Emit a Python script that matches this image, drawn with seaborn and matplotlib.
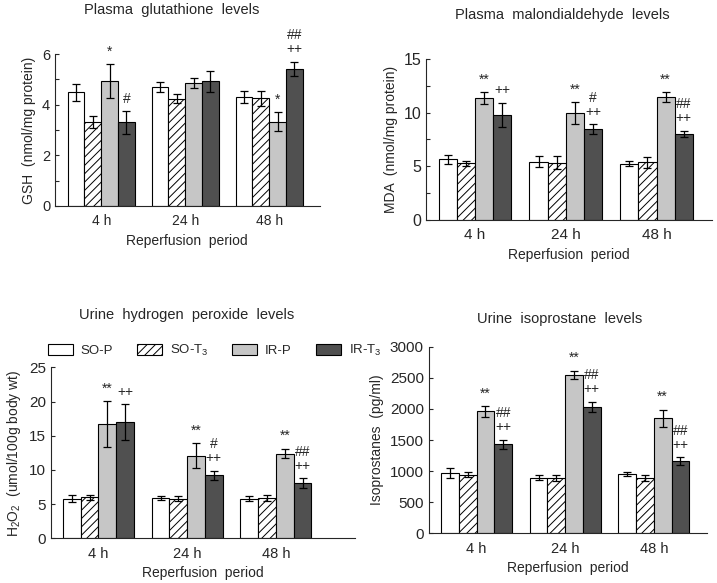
import numpy as np
import pandas as pd
import seaborn as sns
import matplotlib.pyplot as plt
from matplotlib.patches import Patch
from matplotlib.ticker import AutoMinorLocator, MultipleLocator

# data
periods = ["4 h", "24 h", "48 h"]
groups = ["SO-P", "SO-T3", "IR-P", "IR-T3"]

gsh_mean = {"SO-P": [4.49, 4.69, 4.32], "SO-T3": [3.33, 4.24, 4.25],
            "IR-P": [4.93, 4.86, 3.33], "IR-T3": [3.30, 4.93, 5.42]}
gsh_err = {"SO-P": [0.33, 0.20, 0.24], "SO-T3": [0.24, 0.17, 0.28],
           "IR-P": [0.67, 0.19, 0.37], "IR-T3": [0.45, 0.41, 0.27]}
gsh_marks = {"IR-P": ["*", "", "*"], "IR-T3": ["#", "", "##\n++"]}

mda_mean = {"SO-P": [5.64, 5.42, 5.24], "SO-T3": [5.27, 5.33, 5.36],
            "IR-P": [11.37, 9.95, 11.43], "IR-T3": [9.79, 8.46, 8.00]}
mda_err = {"SO-P": [0.40, 0.50, 0.20], "SO-T3": [0.25, 0.60, 0.50],
           "IR-P": [0.55, 1.00, 0.45], "IR-T3": [1.10, 0.45, 0.30]}
mda_marks = {"IR-P": ["**", "**", "**"], "IR-T3": ["++", "#\n++", "##\n++"]}

h2o2_mean = {"SO-P": [5.8, 5.9, 5.8], "SO-T3": [6.0, 5.8, 5.9],
             "IR-P": [16.7, 12.1, 12.4], "IR-T3": [17.0, 9.2, 8.1]}
h2o2_err = {"SO-P": [0.5, 0.3, 0.4], "SO-T3": [0.4, 0.4, 0.4],
            "IR-P": [3.4, 1.8, 0.7], "IR-T3": [2.6, 0.7, 0.7]}
h2o2_marks = {"IR-P": ["**", "**", "**"], "IR-T3": ["++", "#\n++", "##\n++"]}

iso_mean = {"SO-P": [965, 895, 950], "SO-T3": [945, 885, 890],
            "IR-P": [1960, 2550, 1850], "IR-T3": [1430, 2035, 1160]}
iso_err = {"SO-P": [80, 40, 35], "SO-T3": [45, 50, 45],
           "IR-P": [85, 65, 140], "IR-T3": [70, 80, 60]}
iso_marks = {"IR-P": ["**", "**", "**"], "IR-T3": ["##\n++", "##\n++", "##\n++"]}

colors = ["white", "white", "#c6c6c6", "#505050"]

#----------------------------------------------------------------------------#

sns.set_style("ticks")
plt.rcParams["font.family"] = ["Liberation Sans", "DejaVu Sans"]
plt.rcParams["hatch.linewidth"] = 0.7
plt.rcParams["mathtext.fontset"] = "custom"
plt.rcParams["mathtext.rm"] = "Liberation Sans"

fig = plt.figure(figsize=(7.17, 5.83), dpi=100)


def panel(rect, mean, err, marks, ylim, ystep, minor, xlim, ylabel, tsize):
    ax = fig.add_axes(rect)
    df = pd.DataFrame([(p, g, mean[g][i]) for g in groups
                       for i, p in enumerate(periods)],
                      columns=["period", "group", "value"])
    sns.barplot(data=df, x="period", y="value", hue="group", order=periods,
                hue_order=groups, palette=colors, edgecolor="black",
                linewidth=0.8, width=0.8, errorbar=None, legend=False,
                saturation=1, ax=ax)
    for cont, g in zip(ax.containers, groups):
        for i, bar in enumerate(cont):
            xc = bar.get_x() + bar.get_width() / 2
            ax.errorbar(xc, mean[g][i], yerr=err[g][i], color="black",
                        elinewidth=0.9, capsize=3.2, capthick=0.9)
            if g == "SO-T3":
                bar.set_hatch("////")
            if g in marks and marks[g][i]:
                ax.annotate(marks[g][i], (xc, mean[g][i] + err[g][i]),
                            xytext=(0, 4), textcoords="offset points",
                            ha="center", va="bottom", fontsize=10,
                            linespacing=1.0)
    ax.set_ylim(*ylim)
    ax.set_xlim(*xlim)
    ax.yaxis.set_major_locator(MultipleLocator(ystep))
    if minor:
        ax.yaxis.set_minor_locator(AutoMinorLocator(2))
    ax.tick_params(axis="y", which="both", direction="in", length=3,
                   labelsize=tsize, width=0.8)
    ax.tick_params(axis="x", length=0, labelsize=tsize - 0.5, pad=6)
    ax.set_ylabel(ylabel, fontsize=10)
    ax.set_xlabel("Reperfusion  period", fontsize=10)
    sns.despine(ax=ax)
    for s in ["left", "bottom"]:
        ax.spines[s].set_linewidth(0.8)
    return ax


panel([0.0767, 0.647, 0.369, 0.260], gsh_mean, gsh_err, gsh_marks,
      (0, 6), 2, True, (-0.55, 2.6), "GSH  (nmol/mg protein)", 10.5)
panel([0.594, 0.623, 0.399, 0.276], mda_mean, mda_err, mda_marks,
      (0, 15), 5, True, (-0.54, 2.61), "MDA  (nmol/mg protein)", 11.5)
ax3 = panel([0.071, 0.0767, 0.424, 0.293], h2o2_mean, h2o2_err, h2o2_marks,
            (0, 25), 5, False, (-0.535, 2.89),
            "H$_2$O$_2$  (umol/100g body wt)", 11)
panel([0.598, 0.0852, 0.388, 0.320], iso_mean, iso_err, iso_marks,
      (0, 3000), 500, False, (-0.54, 2.6), "Isoprostanes  (pg/ml)", 11)

fig.text(0.24, 0.983, "Plasma  glutathione  levels", ha="center", va="center",
         fontsize=10.5)
fig.text(0.784, 0.974, "Plasma  malondialdehyde  levels", ha="center",
         va="center", fontsize=10.5)
fig.text(0.26, 0.46, "Urine  hydrogen  peroxide  levels", ha="center",
         va="center", fontsize=10.5)
fig.text(0.78, 0.453, "Urine  isoprostane  levels", ha="center", va="center",
         fontsize=10.5)

labels = ["SO-P", "SO-T$_3$", "IR-P", "IR-T$_3$"]
handles = [Patch(facecolor=c, edgecolor="black", linewidth=0.8,
                 hatch="////" if g == "SO-T3" else None)
           for c, g in zip(colors, groups)]
ax3.legend(handles, labels, ncol=4, frameon=False, fontsize=9.5,
           loc="center left", bbox_to_anchor=(-0.05, 1.1),
           handlelength=1.9, handleheight=0.9, columnspacing=1.8,
           handletextpad=0.6)

fig.savefig("out.png", dpi=100)
